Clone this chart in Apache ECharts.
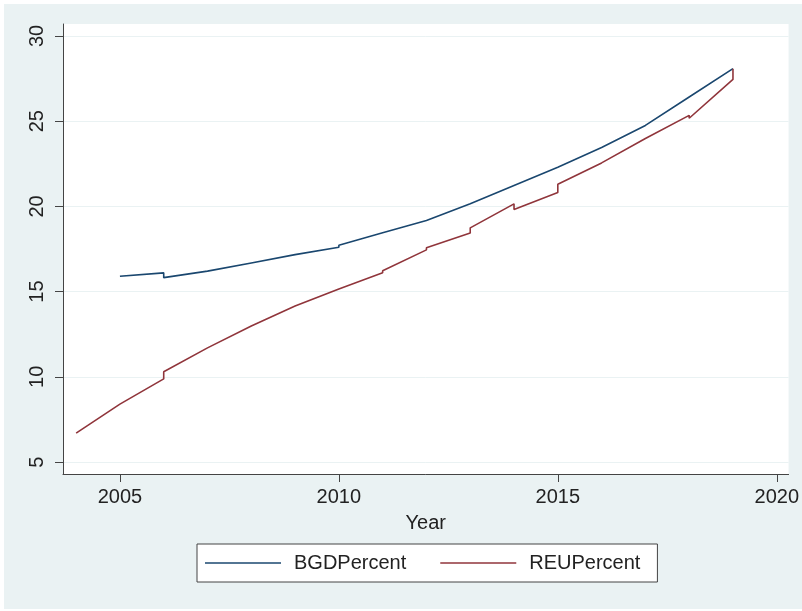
<!DOCTYPE html>
<html>
<head>
<meta charset="utf-8">
<script src="https://cdn.jsdelivr.net/npm/echarts@6/dist/echarts.min.js"></script>
<style>
  html, body { margin: 0; padding: 0; background: #fff; }
  #chart { position: absolute; left: 4px; top: 4px; width: 798px; height: 605px; }
</style>
</head>
<body>
<div id="chart"></div>
<script>
// years repeat where the series jumps at a year boundary
const bgdYears = [2005, 2006, 2006, 2007, 2008, 2009, 2010, 2010, 2011, 2012, 2013, 2013, 2014, 2014, 2015, 2016, 2017, 2018, 2018, 2019]
const bgdValues = [15.9, 16.1, 15.82, 16.2, 16.68, 17.17, 17.6, 17.72, 18.45, 19.17, 20.15, 20.2, 21.23, 21.28, 22.3, 23.45, 24.75, 26.42, 26.5, 28.08]

const reuYears = [2004, 2005, 2006, 2006, 2007, 2008, 2009, 2010, 2011, 2011, 2012, 2012, 2013, 2013, 2014, 2014, 2015, 2015, 2016, 2016, 2017, 2018, 2018, 2019, 2019]
const reuValues = [6.7, 8.4, 9.88, 10.3, 11.7, 12.98, 14.15, 15.15, 16.1, 16.22, 17.45, 17.58, 18.44, 18.74, 20.15, 19.82, 20.82, 21.3, 22.55, 22.66, 23.98, 25.34, 25.17, 27.45, 28.08]

const xTicks = [2005, 2010, 2015, 2020]
const yTicks = [5, 10, 15, 20, 25, 30]

const seriesNames = ['BGDPercent', 'REUPercent']

const toPairs = (xs, ys) => xs.map((x, i) => [x, ys[i]])

let myChart = echarts.init(document.getElementById('chart'))
let option = {
  backgroundColor: '#eaf2f3',
  textStyle: { fontFamily: 'Liberation Sans, Arial, sans-serif' },
  animation: false,
  grid: {
    left: 59,
    right: 12,
    top: 20,
    bottom: 135,
    show: true,
    backgroundColor: '#ffffff',
    borderWidth: 0
  },
  legend: {
    data: seriesNames,
    left: 193,
    top: 540,
    orient: 'horizontal',
    icon: 'rect',
    backgroundColor: '#ffffff',
    borderColor: '#444',
    borderWidth: 1,
    padding: [9, 17, 9, 8],
    itemWidth: 76,
    itemHeight: 1.6,
    itemGap: 34,
    textStyle: { fontSize: 20, color: '#222', padding: [0, 0, 0, 8] }
  },
  xAxis: {
    type: 'value',
    min: 2003.7,
    max: 2020.27,
    name: 'Year',
    nameLocation: 'middle',
    nameGap: 39,
    nameTextStyle: { fontSize: 20, color: '#222' },
    axisLine: { show: true, lineStyle: { color: '#444', width: 1 } },
    axisTick: { show: true, length: 8, customValues: xTicks, lineStyle: { color: '#444' } },
    axisLabel: {
      fontSize: 20,
      color: '#222',
      margin: 13,
      customValues: xTicks,
      formatter: function (value) {
        return String(value)
      }
    },
    splitLine: { show: false }
  },
  yAxis: {
    type: 'value',
    min: 4.3,
    max: 30.7,
    axisLine: { show: true, lineStyle: { color: '#444', width: 1 } },
    axisTick: { show: true, length: 8, customValues: yTicks, lineStyle: { color: '#444' } },
    axisLabel: { fontSize: 20, color: '#222', rotate: 90, margin: 16, customValues: yTicks },
    splitLine: { show: true, lineStyle: { color: '#eaf2f3', width: 1 } }
  },
  series: [
    {
      name: seriesNames[0],
      type: 'line',
      symbol: 'none',
      data: toPairs(bgdYears, bgdValues),
      lineStyle: { color: '#1a476f', width: 1.6 },
      itemStyle: { color: '#1a476f' }
    },
    {
      name: seriesNames[1],
      type: 'line',
      symbol: 'none',
      data: toPairs(reuYears, reuValues),
      lineStyle: { color: '#90353b', width: 1.6 },
      itemStyle: { color: '#90353b' }
    }
  ]
}
option && myChart.setOption(option)
</script>
</body>
</html>
